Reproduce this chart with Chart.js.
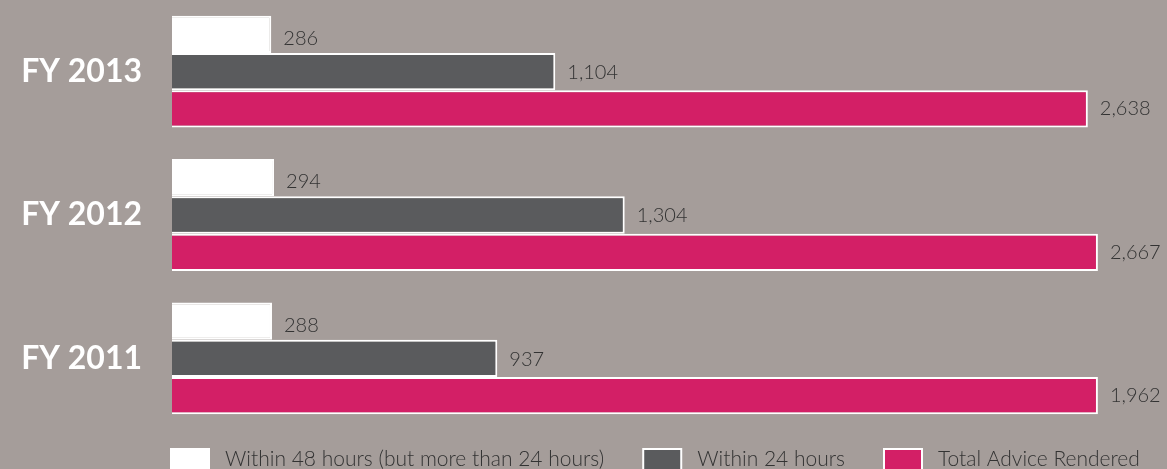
<!DOCTYPE html>
<html>
<head>
<meta charset="utf-8">
<script src="https://cdn.jsdelivr.net/npm/chart.js@4.4.1/dist/chart.umd.min.js"></script>
<style>
  html, body { margin: 0; padding: 0; background: #a59d9a; }
  #wrap { width: 1167px; height: 469px; position: relative; overflow: hidden; }
  canvas { display: block; }
</style>
</head>
<body>
<div id="wrap"><canvas id="c" width="1167" height="469"></canvas></div>
<script>
// ---- data ----
const categories = ['FY 2013', 'FY 2012', 'FY 2011'];
const seriesNames = ['Within 48 hours (but more than 24 hours)', 'Within 24 hours', 'Total Advice Rendered'];
const within48 = [286, 294, 288];
const within24 = [1104, 1304, 937];
// bar lengths as drawn in the picture (the FY 2011 total bar is drawn as long as FY 2012's)
const totalBars = [2638, 2667, 2667];
// printed value labels
const within48Labels = ['286', '294', '288'];
const within24Labels = ['1,104', '1,304', '937'];
const totalLabels = ['2,638', '2,667', '1,962'];

const colors = ['#ffffff', '#5a5b5d', '#d31f66'];
const labelSets = [within48Labels, within24Labels, totalLabels];
const labelDy = [4, 1, 0];

const valueLabels = {
  id: 'valueLabels',
  afterDatasetsDraw(chart) {
    const ctx = chart.ctx;
    ctx.save();
    ctx.font = '300 20px Lato';
    ctx.fillStyle = '#333333';
    ctx.textAlign = 'left';
    ctx.textBaseline = 'middle';
    chart.data.datasets.forEach((ds, di) => {
      const meta = chart.getDatasetMeta(di);
      meta.data.forEach((el, i) => {
        ctx.fillText(labelSets[di][i], el.x + 12, el.y + labelDy[di]);
      });
    });
    ctx.restore();
  }
};

const customLegend = {
  id: 'customLegend',
  afterDraw(chart) {
    const ctx = chart.ctx;
    ctx.save();
    ctx.font = '300 21px Lato';
    ctx.textBaseline = 'middle';
    ctx.textAlign = 'left';
    let x = chart.chartArea.left - 2;
    const top = chart.height - 21;
    const boxW = 40, boxH = 24;
    chart.data.datasets.forEach((ds) => {
      ctx.fillStyle = '#ffffff';
      ctx.fillRect(x, top, boxW, boxH);
      ctx.fillStyle = ds.backgroundColor;
      ctx.fillRect(x + 2, top + 2, boxW - 4, boxH - 4);
      const tx = x + boxW + 15;
      ctx.fillStyle = '#333333';
      ctx.fillText(ds.label, tx, top + 11);
      x = tx + ctx.measureText(ds.label).width + 38;
    });
    ctx.restore();
  }
};

new Chart(document.getElementById('c'), {
  type: 'bar',
  data: {
    labels: categories,
    datasets: [
      { label: seriesNames[0], data: within48, backgroundColor: colors[0], borderColor: '#ffffff', borderWidth: 2 },
      { label: seriesNames[1], data: within24, backgroundColor: colors[1], borderColor: '#ffffff', borderWidth: 2 },
      { label: seriesNames[2], data: totalBars, backgroundColor: colors[2], borderColor: '#ffffff', borderWidth: 2 }
    ]
  },
  options: {
    indexAxis: 'y',
    responsive: false,
    animation: false,
    devicePixelRatio: 1,
    layout: { padding: { left: 0, right: 0, top: 0, bottom: 39 } },
    categoryPercentage: 0.78,
    barPercentage: 1.0,
    plugins: {
      legend: { display: false },
      tooltip: { enabled: false }
    },
    scales: {
      x: {
        display: false,
        min: 0,
        max: 2866
      },
      y: {
        grid: { display: false, drawTicks: false },
        border: { display: false },
        ticks: {
          color: '#ffffff',
          font: { family: 'Lato', size: 32, weight: 'bold' },
          padding: 30
        },
        afterFit(scale) {
          scale.width = 172;
          scale.paddingTop = 0;
          scale.paddingBottom = 0;
        }
      }
    }
  },
  plugins: [valueLabels, customLegend]
});
</script>
</body>
</html>
